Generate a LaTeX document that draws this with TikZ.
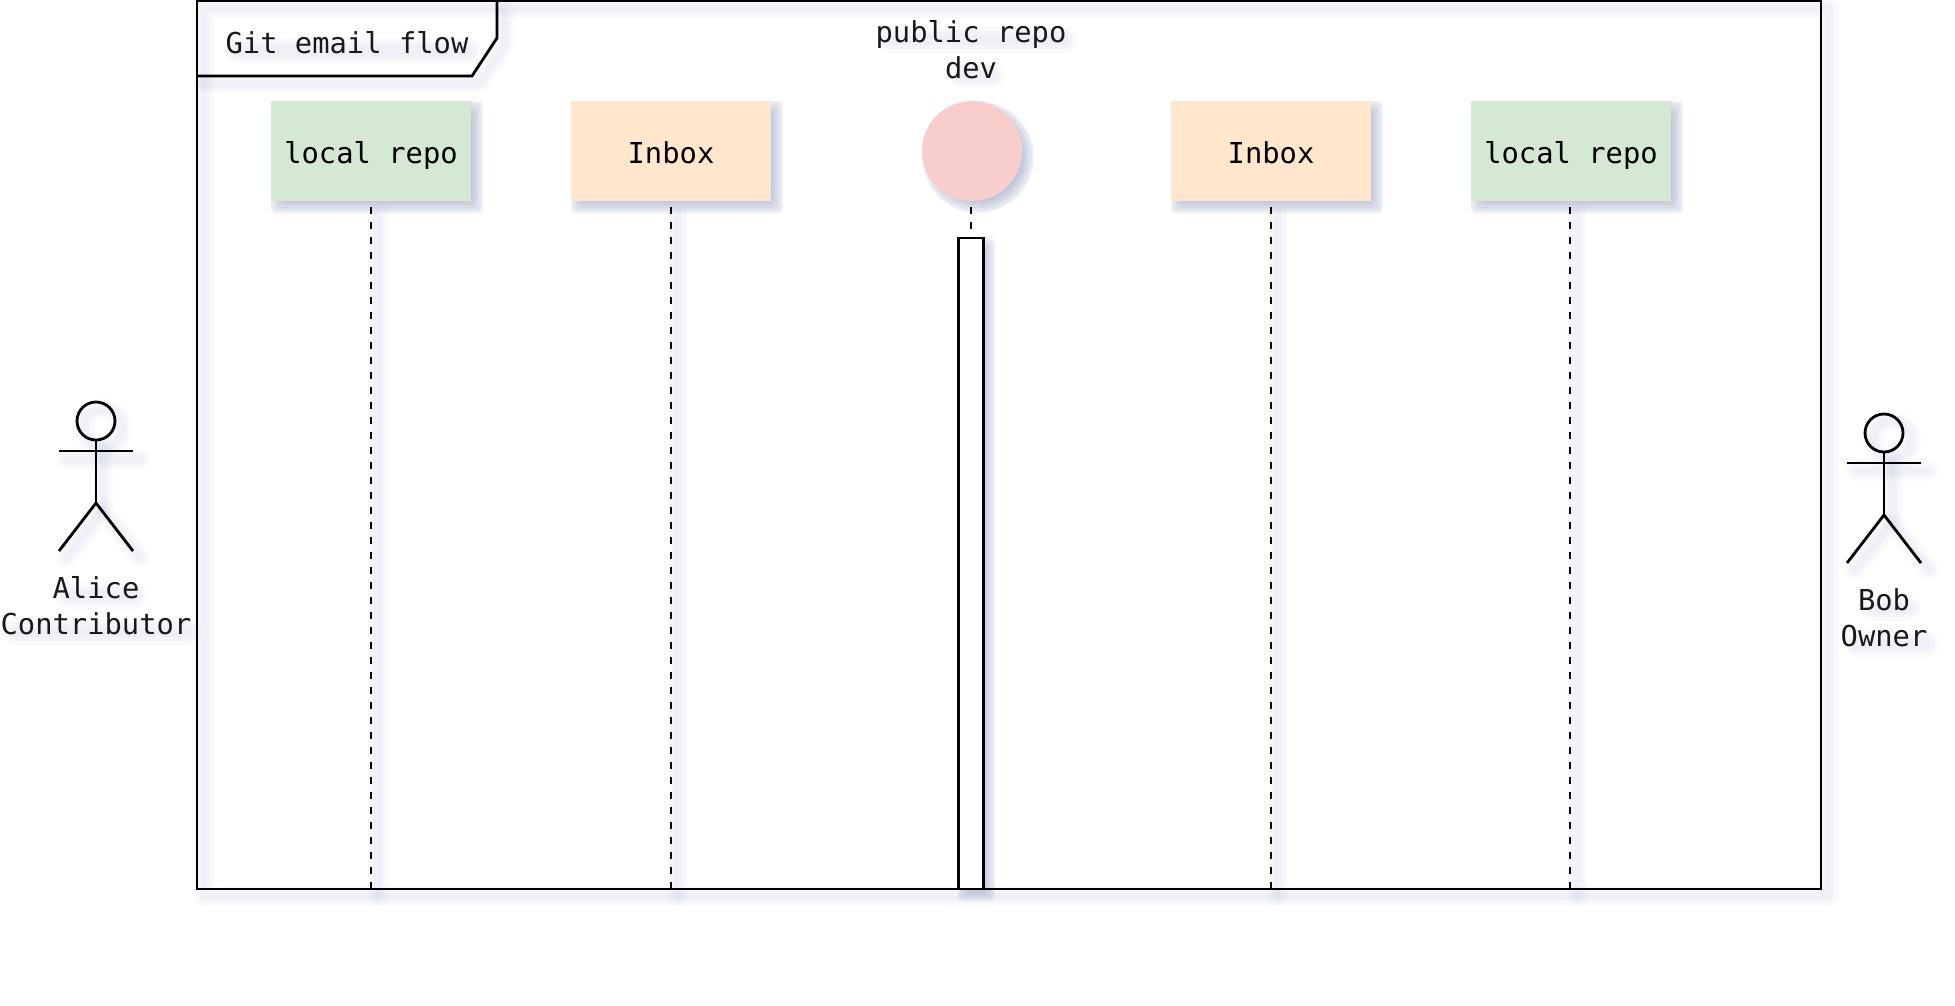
\documentclass[tikz,border=0pt]{standalone}
\usepackage{fontspec}
\setmainfont{DejaVu Sans Mono}
\definecolor{shadowink}{HTML}{6A78A8}
\definecolor{repogreen}{HTML}{D5E8D4}
\definecolor{inboxorange}{HTML}{FFE6CC}
\definecolor{publicred}{HTML}{F8CECC}
\newcommand\softstroke[1]{%
  \foreach \w in {20,15,10,6}{\draw[shadowink,draw opacity=.028,line width=\w pt,line cap=round,line join=round,shift={(7,7)}] #1;}}
\newcommand\softtext[3]{%
  \foreach \w in {26,18,10}{\draw[shadowink,draw opacity=.04,line width=\w pt,line cap=round,shift={(6,8)}] (#1,#3) -- (#2,#3);}}
\newcommand\softbox[4]{%
  \foreach \e in {-5,-2,1,4,6}{\fill[shadowink,fill opacity=.1,rounded corners=4pt] (#1+6-\e,#2+6-\e) rectangle (#3+6+\e,#4+6+\e);}}
\tikzset{
  lineart/.style={draw=black,line width=2.8pt,line join=miter},
  boxnode/.style={rectangle,minimum width=200pt,minimum height=100pt,inner sep=0pt,text height=30pt,text depth=6pt,font=\fontsize{28.8}{33}\selectfont},
  txt/.style={inner sep=0pt,align=center,font=\fontsize{28.8}{36}\selectfont,text=black!90},
  lifeline/.style={draw=black,line width=2.8pt,dash pattern=on 7pt off 8pt},
  headnode/.style={circle,draw=black,line width=2.8pt,minimum size=38pt,inner sep=0pt}
}
\begin{document}
\begin{tikzpicture}[x=1pt,y=-1pt]
\useasboundingbox (0,0) rectangle (1955,1005);
% soft shadows
\softstroke{(197,1) -- (1821,1) -- (1821,889) -- (197,889) -- cycle}
\softstroke{(497,1) -- (497,38) -- (472,76) -- (197,76)}
\foreach \x in {371,671,1271,1570}{\softstroke{(\x,207) -- (\x,889)}}
\softbox{271}{101}{471}{201}
\softbox{571}{101}{771}{201}
\softbox{1171}{101}{1371}{201}
\softbox{1471}{101}{1671}{201}
\foreach \e in {-5,-2,1,4,6}{\fill[shadowink,fill opacity=.1] (978,157) circle ({50+\e});}
\softbox{958}{238}{983}{889}
\foreach \cx/\cy in {96/421,1885/433}{
  \softstroke{(\cx-37,\cy+31) -- (\cx+37,\cy+31)}
  \softstroke{(\cx,\cy+19) -- (\cx,\cy+82) -- (\cx-37,\cy+130)}
  \softstroke{(\cx,\cy+82) -- (\cx+37,\cy+130)}
  \softstroke{(\cx,\cy) circle (19)}
}
\softtext{232}{462}{43}
\softtext{884}{1058}{32}
\softtext{956}{986}{67}
\softtext{64}{128}{588}
\softtext{10}{182}{624}
\softtext{1868}{1902}{600}
\softtext{1850}{1920}{636}
% frame
\draw[lineart] (197,1) -- (1821,1) -- (1821,889) -- (197,889) -- cycle;
\node[txt] (framelabel) at (347,43) {Git email flow};
\draw[lineart] (497,1) -- (497,38) -- (472,76) -- (197,76);
% participants
\node[boxnode,fill=repogreen] (repoa) at (371,151) {local repo};
\node[boxnode,fill=inboxorange] (inboxa) at (671,151) {Inbox};
\node[circle,fill=publicred,minimum size=100pt,inner sep=0pt] (public) at (972,151) {};
\node[txt] (publiclabel) at (971,50) {public repo\\dev};
\node[boxnode,fill=inboxorange] (inboxb) at (1271,151) {Inbox};
\node[boxnode,fill=repogreen] (repob) at (1571,151) {local repo};
% lifeline ends
\coordinate (enda) at (371,889);
\coordinate (endb) at (671,889);
\coordinate (endc) at (971,238);
\coordinate (endd) at (1271,889);
\coordinate (ende) at (1570,889);
\draw[lifeline] (371,207) -- (enda);
\draw[lifeline] (671,207) -- (endb);
\draw[lifeline] (971,207) -- (endc);
\draw[lifeline] (1271,207) -- (endd);
\draw[lifeline] (1570,207) -- (ende);
% activation bar
\node[draw=black,line width=2.8pt,fill=white,minimum width=25pt,minimum height=651pt,inner sep=0pt] (bar) at (971,563.5) {};
% Alice
\node[headnode] (heada) at (96,421) {};
\coordinate (hipa) at (96,503);
\draw[lineart] (heada.south) -- (hipa);
\draw[lineart] (59,451) -- (133,451);
\draw[lineart] (59,551) -- (hipa) -- (133,551);
\node[txt] (alice) at (96,606) {Alice\\Contributor};
% Bob
\node[headnode] (headb) at (1884,433) {};
\coordinate (hipb) at (1884,515);
\draw[lineart] (headb.south) -- (hipb);
\draw[lineart] (1847,463) -- (1921,463);
\draw[lineart] (1847,563) -- (hipb) -- (1921,563);
\node[txt] (bob) at (1884,618) {Bob\\Owner};
\end{tikzpicture}
\end{document}
